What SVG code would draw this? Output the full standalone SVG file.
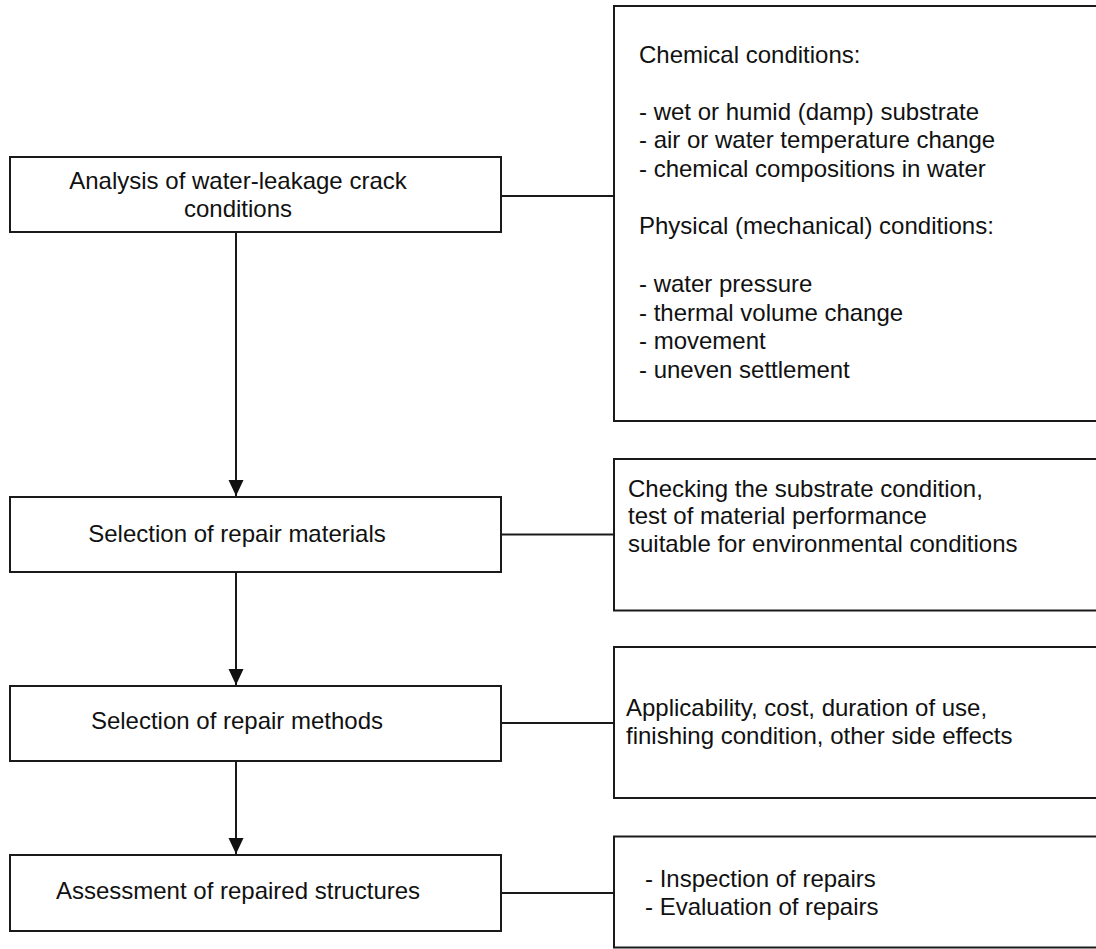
<svg xmlns="http://www.w3.org/2000/svg" width="1096" height="949" viewBox="0 0 1096 949">
<style>
.box{fill:#fff;stroke:#1a1a1a;stroke-width:2}
.ln{stroke:#1a1a1a;stroke-width:2;fill:none}
.t{font-family:"Liberation Sans",Arial,sans-serif;font-size:24px;fill:#111}
.c{text-anchor:middle}
</style>
<defs>
<marker id="arr" markerUnits="userSpaceOnUse" markerWidth="16" markerHeight="16" refX="16" refY="8" orient="auto">
<path d="M0,0.5 L16,8 L0,15.5 z" fill="#111"/>
</marker>
</defs>
<rect width="1096" height="949" fill="#fff"/>
<g id="connectors">
<line class="ln" x1="236" y1="232" x2="236" y2="496" marker-end="url(#arr)"/>
<line class="ln" x1="236" y1="572" x2="236" y2="685" marker-end="url(#arr)"/>
<line class="ln" x1="236" y1="761" x2="236" y2="854" marker-end="url(#arr)"/>
<line class="ln" x1="501" y1="196" x2="614" y2="196"/>
<line class="ln" x1="501" y1="534.5" x2="614" y2="534.5"/>
<line class="ln" x1="501" y1="723" x2="614" y2="723"/>
<line class="ln" x1="501" y1="893" x2="614" y2="893"/>
</g>
<g id="analysis">
<rect class="box" x="10" y="157" width="491" height="75"/>
<text class="t c" x="238" y="189">Analysis of water-leakage crack</text>
<text class="t c" x="238" y="217">conditions</text>
</g>
<g id="materials">
<rect class="box" x="10" y="497" width="491" height="75"/>
<text class="t c" x="237" y="542">Selection of repair materials</text>
</g>
<g id="methods">
<rect class="box" x="10" y="686" width="491" height="75"/>
<text class="t c" x="237" y="729">Selection of repair methods</text>
</g>
<g id="assessment">
<rect class="box" x="10" y="855" width="491" height="76"/>
<text class="t c" x="238" y="899">Assessment of repaired structures</text>
</g>
<g id="conditions">
<rect class="box" x="614" y="6" width="490" height="415"/>
<text class="t" x="639" y="63">Chemical conditions:</text>
<text class="t" x="639" y="119.5">- wet or humid (damp) substrate</text>
<text class="t" x="639" y="148">- air or water temperature change</text>
<text class="t" x="639" y="176.5">- chemical compositions in water</text>
<text class="t" x="639" y="234">Physical (mechanical) conditions:</text>
<text class="t" x="639" y="292">- water pressure</text>
<text class="t" x="639" y="320.5">- thermal volume change</text>
<text class="t" x="639" y="349">- movement</text>
<text class="t" x="639" y="378">- uneven settlement</text>
</g>
<g id="materials-note">
<rect class="box" x="614" y="459" width="490" height="151.5"/>
<text class="t" x="628" y="496.5">Checking the substrate condition,</text>
<text class="t" x="628" y="524">test of material performance</text>
<text class="t" x="628" y="551.5">suitable for environmental conditions</text>
</g>
<g id="methods-note">
<rect class="box" x="614" y="647" width="490" height="151"/>
<text class="t" x="626" y="716">Applicability, cost, duration of use,</text>
<text class="t" x="626" y="744">finishing condition, other side effects</text>
</g>
<g id="assessment-note">
<rect class="box" x="614" y="836.5" width="490" height="111"/>
<text class="t" x="645" y="887">- Inspection of repairs</text>
<text class="t" x="645" y="915">- Evaluation of repairs</text>
</g>
</svg>
